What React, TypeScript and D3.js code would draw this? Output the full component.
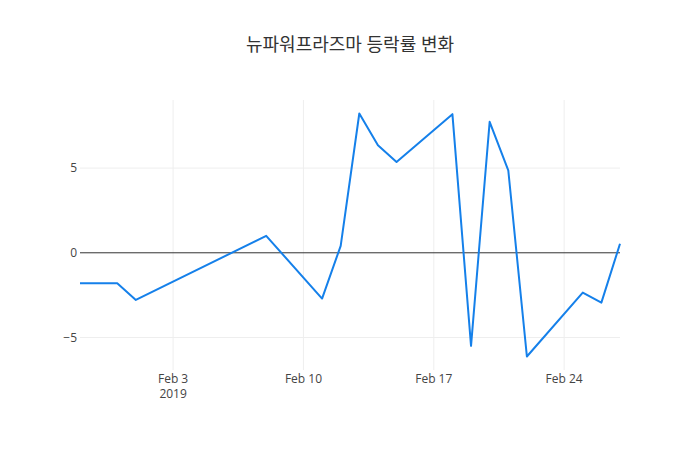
import React from "react";
import * as d3 from "d3";

const title = "뉴파워프라즈마 등락률 변화";
const dates = [
  "2019-01-29", "2019-01-31", "2019-02-01", "2019-02-08", "2019-02-11",
  "2019-02-12", "2019-02-13", "2019-02-14", "2019-02-15", "2019-02-18",
  "2019-02-19", "2019-02-20", "2019-02-21", "2019-02-22", "2019-02-25",
  "2019-02-26", "2019-02-27",
];
const values = [
  -1.8, -1.8, -2.78, 1.0, -2.7, 0.41, 8.22, 6.35, 5.36, 8.18, -5.49, 7.73,
  4.87, -6.12, -2.35, -2.94, 0.53,
];
const xTicks = ["2019-02-03", "2019-02-10", "2019-02-17", "2019-02-24"];
const xTickLabels = ["Feb 3", "Feb 10", "Feb 17", "Feb 24"];
const yTicks = [-5, 0, 5];

const W = 700, H = 450;
const M = { l: 80, r: 80, t: 100, b: 80 };
const FONT = "'Open Sans', 'Noto Sans CJK KR', verdana, arial, sans-serif";

export default function App() {
  const parse = (s: string) => new Date(s + "T00:00:00Z");
  const pts = dates.map((d, i) => ({ d: parse(d), v: values[i] }));
  const x = d3
    .scaleUtc()
    .domain([parse(dates[0]), parse(dates[dates.length - 1])])
    .range([M.l, W - M.r]);
  const pw = H - M.t - M.b;
  const vmin = d3.min(values)!, vmax = d3.max(values)!;
  const pad = ((vmax - vmin) * 0.05 * pw) / (pw * 0.9);
  const y = d3
    .scaleLinear()
    .domain([vmin - pad, vmax + pad])
    .range([H - M.b, M.t]);
  const line = d3
    .line<{ d: Date; v: number }>()
    .x((p) => x(p.d))
    .y((p) => y(p.v));

  return (
    <div style={{ position: "absolute", left: 0, top: 0 }}>
      <svg width={W} height={H} style={{ display: "block", background: "#fff" }}>
        <text x={W / 2} y={51} textAnchor="middle" fontFamily={FONT} fontSize={18} fill="#333">
          {title}
        </text>
        {xTicks.map((t) => (
          <line key={t} x1={x(parse(t))} x2={x(parse(t))} y1={M.t} y2={H - M.b} stroke="#eee" strokeWidth={1} />
        ))}
        {yTicks.filter((t) => t !== 0).map((t) => (
          <line key={t} x1={M.l} x2={W - M.r} y1={y(t)} y2={y(t)} stroke="#eee" strokeWidth={1} />
        ))}
        <line x1={M.l} x2={W - M.r} y1={y(0)} y2={y(0)} stroke="#333" strokeWidth={1} />
        <path d={line(pts)!} fill="none" stroke="#1580ea" strokeWidth={2} strokeLinejoin="round" />
        {yTicks.map((t) => (
          <text key={t} x={M.l - 3} y={y(t)} dy="0.35em" textAnchor="end" fontFamily={FONT} fontSize={12} fill="#444">
            {t < 0 ? "\u2212" + Math.abs(t) : String(t)}
          </text>
        ))}
        {xTicks.map((t, i) => (
          <text key={t} x={x(parse(t))} y={383} textAnchor="middle" fontFamily={FONT} fontSize={12} fill="#444">
            <tspan x={x(parse(t))}>{xTickLabels[i]}</tspan>
            {i === 0 ? <tspan x={x(parse(t))} dy={15}>2019</tspan> : null}
          </text>
        ))}
      </svg>
    </div>
  );
}
